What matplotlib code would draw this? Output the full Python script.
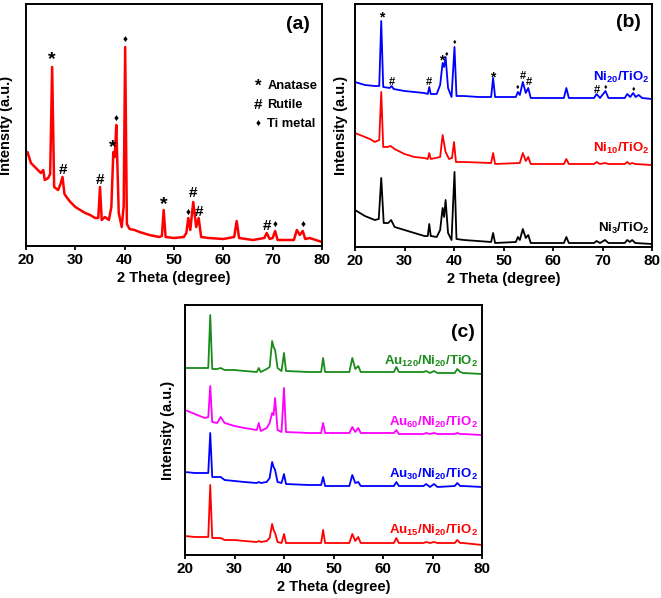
#xrd patterns of Ni/TiO2 and Au/Ni/TiO2 samples - three panels (a), (b), (c)

import numpy as np
import matplotlib
matplotlib.use("Agg")
from matplotlib import pyplot as plt

##fonts
plt.rcParams['font.family'] = ['Liberation Sans', 'DejaVu Sans']
plt.rcParams['font.weight'] = 'bold'
plt.rcParams['mathtext.fontset'] = 'custom'
plt.rcParams['mathtext.bf'] = 'Liberation Sans:bold'
plt.rcParams['mathtext.rm'] = 'Liberation Sans:bold'
plt.rcParams['mathtext.default'] = 'bf'

##panel (a) - Ti/TiO2 pattern (intensity in a.u.)
a_x = [20, 20.3, 21, 22, 23, 23.5, 23.8, 24.5, 24.9, 25.3, 25.7, 26.5, 27.0, 27.4, 27.8, 28.5, 29, 30, 31, 32,
       33, 34, 34.65, 35.0, 35.35, 36, 36.8, 37.3, 37.7, 38.0, 38.3, 38.8, 39.4, 39.8, 40.1, 40.45, 41, 42, 43, 45,
       47, 47.55, 47.9, 48.3, 50, 52, 52.5, 52.9, 53.3, 53.9, 54.5, 55.0, 55.5, 57, 60, 62.2, 62.7, 63.2, 66, 68.3,
       68.8, 69.4, 70.0, 70.5, 71.0, 74.3, 74.9, 75.5, 76.1, 76.6, 77.5, 80]
a_y = [91, 94, 83, 78, 73, 76, 66, 68, 72, 179, 59, 56, 62, 69, 52, 47, 44, 39, 36, 33,
       31, 28, 28, 59, 26, 29, 26, 39, 94, 89, 121, 33, 19, 40, 199, 22, 17, 16, 14, 11,
       9, 10, 36, 9, 8, 9, 13, 28, 16, 44, 19, 28, 9, 8, 7, 9, 25, 8, 6, 8,
       13, 7, 8, 15, 6, 6, 16, 11, 15, 7, 8, 4]

##phase marks for panel (a)
a_mark_x = [25.3, 27.4, 35.0, 37.6, 38.3, 40.1, 47.9, 52.9, 53.9, 55.1, 68.8, 70.5, 76.1]
a_mark_y = [186, 76, 66, 98, 127, 206, 41, 33, 53, 34, 20, 21, 21]
a_mark_sym = ['*', '#', '#', '*', '♦', '♦', '*', '♦', '#', '#', '#', '♦', '♦']

phase_sym = ['*', '#', '♦']
phase_names = ['Anatase', 'Rutile', 'Ti metal']

##panel (b) - Ni loading
b20_x = [20, 22, 24, 24.9, 25.3, 25.7, 27.0, 27.4, 27.8, 30, 32, 34, 34.7, 35.0, 35.3, 36.5, 37.2, 37.7, 38.0, 38.3,
         38.8, 39.5, 40.1, 40.5, 42, 45, 47.5, 47.9, 48.3, 52.5, 52.9, 53.3, 53.9, 54.5, 55.0, 55.5, 60, 62.2, 62.7, 63.2,
         68.3, 68.8, 69.5, 70.6, 71.2, 74.5, 75.0, 75.6, 76.2, 76.7, 77.3, 78, 80]
b20_y = [165, 162, 161, 161, 226, 160, 159, 161, 158, 156, 155, 154, 153, 160, 153, 153, 162, 184, 180, 190,
         159, 150, 200, 151, 151, 150, 150, 169, 150, 150, 155, 152, 165, 154, 159, 149, 149, 149, 159, 149,
         149, 153, 149, 156, 149, 149, 153, 150, 154, 150, 152, 149, 148]

b10_x = [20, 21, 22, 23, 24, 24.9, 25.3, 25.7, 26.5, 27.2, 28, 30, 32, 34, 34.7, 35.0, 35.3, 37.2, 37.7, 38.3,
         39.0, 39.6, 40.0, 40.4, 42, 47.5, 47.9, 48.3, 53.3, 53.9, 54.5, 55.0, 55.5, 62.2, 62.7, 63.2, 68.3, 68.8, 69.5, 70.5,
         71.2, 74.5, 75.0, 75.5, 76.0, 76.6, 80]
b10_y = [114, 112, 110, 108, 105, 107, 155, 100, 100, 101, 98, 93, 90, 89, 88, 94, 88, 90, 112, 95,
         88, 89, 105, 85, 85, 84, 94, 83, 84, 94, 86, 90, 83, 83, 88, 83, 83, 85, 83, 84,
         83, 83, 85, 83, 84, 83, 82]

b3_x = [20, 21, 22, 23, 24, 24.8, 25.3, 25.8, 26.7, 27.3, 28, 30, 32, 34, 34.7, 35.0, 35.3, 36.5, 37.2, 37.7,
        38.0, 38.3, 38.8, 39.5, 40.1, 40.5, 42, 47.5, 47.9, 48.3, 52.5, 52.9, 53.3, 53.9, 54.5, 55.0, 55.5, 62.2, 62.7, 63.2,
        68.3, 68.8, 69.5, 70.5, 71.2, 74.5, 75.0, 75.5, 76.0, 76.6, 80]
b3_y = [37, 34, 31, 29, 27, 28, 69, 24, 24, 27, 20, 17, 14, 11, 11, 23, 11, 10, 17, 39,
        30, 47, 14, 7, 75, 8, 7, 5, 14, 4, 5, 10, 7, 18, 9, 12, 4, 4, 10, 4,
        4, 6, 4, 7, 4, 4, 7, 5, 7, 4, 3]

b_labels = [r'Ni$_{20}$/TiO$_2$', r'Ni$_{10}$/TiO$_2$', r'Ni$_3$/TiO$_2$']
b_colors = ['#0000ff', '#ff0000', '#000000']
b_label_y = [170, 99, 19]

##phase marks on the Ni20 pattern
b_mark_x = [25.3, 27.4, 35.0, 37.6, 38.4, 40.1, 47.9, 52.9, 53.9, 55.1, 68.8, 70.6, 76.2]
b_mark_y = [230, 165, 165, 187, 193, 205, 170, 160, 171, 165, 157, 160, 158]
b_mark_sym = ['*', '#', '#', '*', '♦', '♦', '*', '♦', '#', '#', '#', '♦', '♦']

##panel (c) - Au loading on Ni20/TiO2
c_x = [20, 22, 24, 24.7, 25.1, 25.5, 26.5, 27.2, 28, 30, 32, 34.5, 34.9, 35.3, 36.5, 37.1, 37.6, 37.9, 38.2, 38.7,
       39.5, 40.0, 40.4, 45, 47.5, 47.9, 48.3, 53.2, 53.8, 54.4, 55.0, 55.5, 62.2, 62.7, 63.2, 68.2, 68.7, 69.5, 70.3, 71.0,
       74.5, 75.0, 75.6, 76.2, 80]
c120_y = [187, 187, 187, 187, 240, 186, 186, 187, 185, 185, 184, 183, 187, 183, 186, 188, 214, 208, 205, 187,
          184, 202, 184, 183, 183, 197, 183, 183, 197, 186, 189, 183, 183, 188, 183, 183, 184, 182, 184, 182,
          182, 186, 183, 182, 181]
c60_y = [145, 141, 137, 138, 169, 133, 132, 138, 132, 129, 127, 125, 132, 124, 127, 132, 142, 140, 157, 125,
         123, 167, 123, 122, 122, 132, 122, 122, 128, 123, 127, 122, 122, 125, 121, 121, 122, 121, 122, 121,
         121, 122, 121, 121, 120]
c30_y = [83, 82, 82, 82, 122, 78, 78, 78, 75, 74, 73, 72, 73, 72, 73, 77, 93, 88, 85, 73,
         72, 81, 71, 70, 70, 78, 69, 69, 80, 72, 73, 69, 69, 73, 69, 69, 71, 68, 71, 68,
         69, 72, 69, 69, 68]
c15_y = [19, 18, 18, 18, 70, 17, 17, 17, 15, 15, 14, 13, 14, 13, 14, 17, 31, 25, 22, 13,
         12, 21, 12, 12, 12, 25, 12, 12, 21, 14, 18, 12, 12, 17, 12, 12, 13, 12, 13, 12,
         12, 15, 12, 12, 10]

c_labels = [r'Au$_{120}$/Ni$_{20}$/TiO$_2$', r'Au$_{60}$/Ni$_{20}$/TiO$_2$',
            r'Au$_{30}$/Ni$_{20}$/TiO$_2$', r'Au$_{15}$/Ni$_{20}$/TiO$_2$']
c_colors = ['#1a8c1a', '#ff00ff', '#0000ff', '#ff0000']
c_label_y = [194, 133, 81, 25]


def style_axis(ax, ymax, ylab_x):
    ax.set_xlim(20, 80)
    ax.set_ylim(0, ymax)
    ax.set_xticks([20, 30, 40, 50, 60, 70, 80])
    ax.set_yticks([])
    ax.tick_params(axis='x', direction='out', length=3, width=1.3, pad=2, labelsize=11)
    for lab in ax.get_xticklabels():
        lab.set_fontweight('bold')
    for sp in ax.spines.values():
        sp.set_linewidth(1.4)
    ax.set_xlabel('2 Theta (degree)', fontsize=10.5, fontweight='bold', labelpad=3)
    ax.set_ylabel('Intensity (a.u.)', fontsize=10.5, fontweight='bold')
    ax.yaxis.set_label_coords(ylab_x, 0.5)


fig = plt.figure(figsize=(6.61, 5.98), dpi=100)

##(a)
ax_a = fig.add_axes([26/661, 1-246/598, 296/661, 242/598])
ax_a.plot(a_x, a_y, color='#ff0000', lw=1.8)
for x, y, s in zip(a_mark_x, a_mark_y, a_mark_sym):
    fs = {'*': 14, '#': 11, '♦': 7}[s]
    ax_a.text(x, y, s, ha='center', va='center', fontsize=fs, fontweight='bold')
for i in range(3):
    y = 160 - 19*i
    fs = {'*': 12, '#': 11, '♦': 7}[phase_sym[i]]
    ax_a.text(67.0, y, phase_sym[i], ha='center', va='center', fontsize=fs, fontweight='bold')
    ax_a.text(68.9, y, phase_names[i], ha='left', va='center', fontsize=9.3, fontweight='bold')
ax_a.text(0.919, 0.917, '(a)', transform=ax_a.transAxes, ha='center', va='center', fontsize=14, fontweight='bold')
style_axis(ax_a, 242, -0.045)

##(b)
ax_b = fig.add_axes([355/661, 1-247/598, 297/661, 243/598])
for xs, ys, col in zip([b20_x, b10_x, b3_x], [b20_y, b10_y, b3_y], b_colors):
    ax_b.plot(xs, ys, color=col, lw=1.3)
for lab, col, y in zip(b_labels, b_colors, b_label_y):
    ax_b.text(79.6, y, lab, color=col, ha='right', va='center', fontsize=9.5)
for x, y, s in zip(b_mark_x, b_mark_y, b_mark_sym):
    fs = {'*': 10, '#': 8, '♦': 5}[s]
    ax_b.text(x, y, s, ha='center', va='center', fontsize=fs, fontweight='bold')
ax_b.text(0.919, 0.922, '(b)', transform=ax_b.transAxes, ha='center', va='center', fontsize=14, fontweight='bold')
style_axis(ax_b, 243, -0.024)

##(c)
ax_c = fig.add_axes([185/661, 1-555/598, 297/661, 250/598])
for ys, col in zip([c120_y, c60_y, c30_y, c15_y], c_colors):
    ax_c.plot(c_x, ys, color=col, lw=1.3)
for lab, col, y in zip(c_labels, c_colors, c_label_y):
    ax_c.text(79.2, y, lab, color=col, ha='right', va='center', fontsize=9.5)
ax_c.text(0.936, 0.892, '(c)', transform=ax_c.transAxes, ha='center', va='center', fontsize=14, fontweight='bold')
style_axis(ax_c, 250, -0.034)

fig.savefig('out.png', dpi=100)
